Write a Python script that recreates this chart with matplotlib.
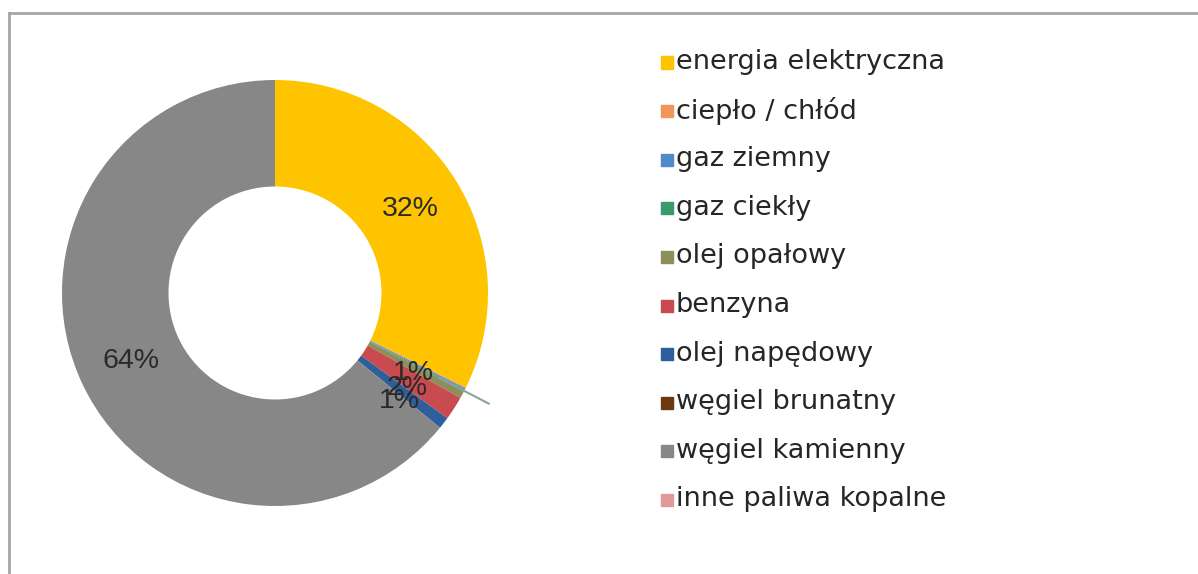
import numpy as np
import matplotlib.pyplot as plt
from matplotlib.patches import Rectangle
from matplotlib.lines import Line2D

plt.rcParams['font.family'] = ['Liberation Sans', 'DejaVu Sans']

# data
labels = ['energia elektryczna', 'ciepło / chłód', 'gaz ziemny', 'gaz ciekły',
          'olej opałowy', 'benzyna', 'olej napędowy', 'węgiel brunatny',
          'węgiel kamienny', 'inne paliwa kopalne']
values = [32.3, 0.1, 0.1, 0.1, 0.6, 1.8, 0.9, 0.0, 64.1, 0.0]
colors = ['#FFC400', '#F0965A', '#4F8ACB', '#3A9A6A', '#8C8E5C',
          '#C94A4F', '#2F5F9A', '#6B3A13', '#878787', '#E09A9A']

fig = plt.figure(figsize=(11.98, 5.74), dpi=100)
W, H = 1198, 574

# donut axes: centre (275,293), radius 213 px
ax = fig.add_axes([62 / W, (H - 506) / H, 426 / W, 426 / H])
wedges, texts, autotexts = ax.pie(
    values, colors=colors, startangle=90, counterclock=False,
    radius=1, pctdistance=0.75,
    autopct=lambda p: ('%.0f%%' % p) if p >= 0.5 else '',
    wedgeprops=dict(width=0.5, linewidth=0),
    textprops=dict(fontsize=20.5, color='#2a2a2a'))
ax.set_xlim(-1, 1)
ax.set_ylim(-1, 1)
ax.set_aspect('equal')
ax.axis('off')

# small labels sit a bit lower in the original (Excel spreads them)
for t, dyy in zip(autotexts[4:7], [-0.02, -0.04, -0.05]):
    x, y = t.get_position()
    t.set_position((x - 0.01, y + dyy))

# leader line sticking out near the small slices
th = np.deg2rad(wedges[3].theta1)
ax.plot([0.87 * np.cos(th), 1.13 * np.cos(th)], [0.87 * np.sin(th), 1.13 * np.sin(th)],
        color='#8aa39b', lw=1.5, clip_on=False)

# legend drawn by hand
y0, dy = 62, 48.6
for i, (lab, c) in enumerate(zip(labels, colors)):
    y = y0 + i * dy
    fig.patches.append(Rectangle((661 / W, (H - y - 6.5) / H), 12 / W, 12 / H,
                                 transform=fig.transFigure, color=c))
    fig.text(676 / W, (H - y) / H, lab, fontsize=19.5, color='#262626',
             va='center', ha='left', family=['DejaVu Sans'])

# frame (top and left edges visible)
fig.lines.append(Line2D([9 / W, 1], [(H - 12.5) / H] * 2, transform=fig.transFigure,
                        color='#a6a6a6', lw=2))
fig.lines.append(Line2D([9 / W] * 2, [0, (H - 12.5) / H], transform=fig.transFigure,
                        color='#a6a6a6', lw=2))

fig.savefig('out.png', dpi=100)
